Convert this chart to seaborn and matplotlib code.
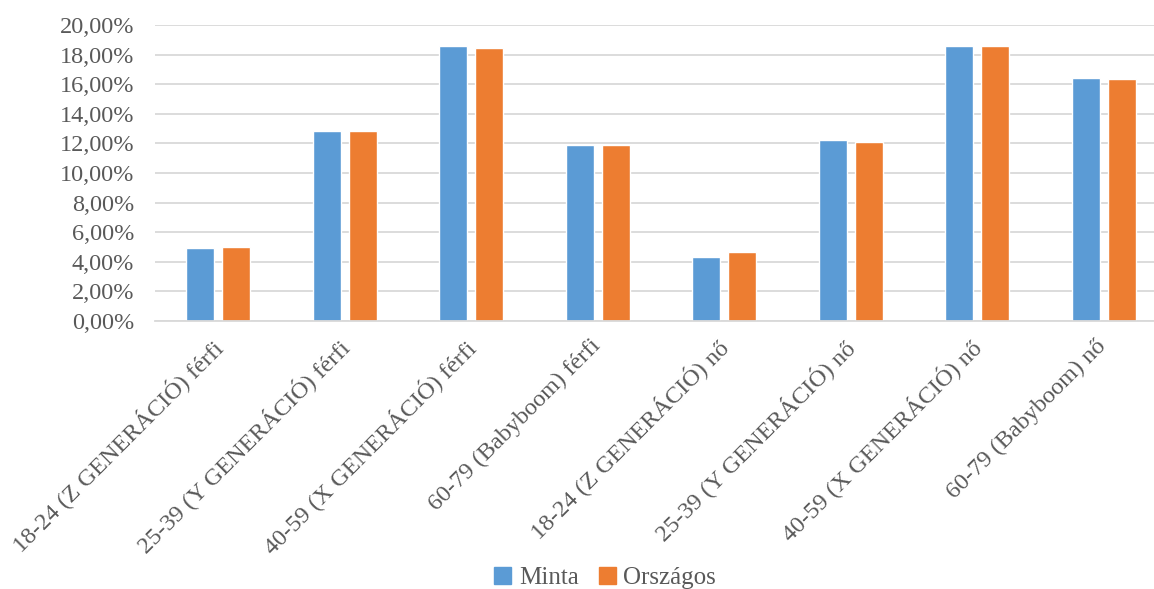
import pandas as pd
import matplotlib
matplotlib.use("Agg")
import matplotlib.pyplot as plt
import matplotlib.transforms as mtransforms
import seaborn as sns
from matplotlib.ticker import FuncFormatter, MultipleLocator

categories = [
    "18-24 (Z GENERÁCIÓ) férfi",
    "25-39 (Y GENERÁCIÓ) férfi",
    "40-59 (X GENERÁCIÓ) férfi",
    "60-79 (Babyboom) férfi",
    "18-24 (Z GENERÁCIÓ) nő",
    "25-39 (Y GENERÁCIÓ) nő",
    "40-59 (X GENERÁCIÓ) nő",
    "60-79 (Babyboom) nő",
]
minta = [0.0494, 0.1283, 0.1860, 0.1186, 0.0433, 0.1224, 0.1860, 0.1641]
orszagos = [0.0501, 0.1281, 0.1842, 0.1188, 0.0467, 0.1211, 0.1858, 0.1635]
series_names = ["Minta", "Országos"]
colors = ["#5B9BD5", "#ED7D31"]

df = pd.DataFrame({
    "cat": categories * 2,
    "val": minta + orszagos,
    "series": [series_names[0]] * len(categories) + [series_names[1]] * len(categories),
})

sns.set_theme(style="white")
plt.rcParams["font.family"] = ["Liberation Serif", "DejaVu Serif"]
grey = "#595959"

fig = plt.figure(figsize=(11.54, 5.89), dpi=100)
ax = fig.add_axes([155 / 1154, (589 - 321) / 589, 1.0 - 155 / 1154, (321 - 25) / 589])

sns.barplot(data=df, x="cat", y="val", hue="series", palette=colors,
            order=categories, hue_order=series_names,
            width=0.57, gap=0.22, saturation=1, ax=ax, legend=False)

ax.set_ylim(0, 0.20)
ax.set_xlim(-0.5, 7.5 - (1167 - 1154) / 126.6)
ax.yaxis.set_major_locator(MultipleLocator(0.02))
ax.yaxis.set_major_formatter(FuncFormatter(lambda v, p: f"{v * 100:.2f}".replace(".", ",") + "%"))
ax.grid(axis="y", color="#d9d9d9", linewidth=1.3)
ax.set_axisbelow(True)
for s in ["top", "right", "left"]:
    ax.spines[s].set_visible(False)
ax.spines["bottom"].set_color("#d9d9d9")
ax.spines["bottom"].set_linewidth(1.3)
ax.set_xlabel("")
ax.set_ylabel("")
ax.tick_params(axis="both", length=0, labelsize=17.5, colors=grey)
ax.tick_params(axis="y", pad=15)
ax.tick_params(axis="x", pad=6)

shift = mtransforms.ScaledTranslation(-8 / 100, -6 / 100, fig.dpi_scale_trans)
for lbl in ax.get_xticklabels():
    lbl.set_rotation(45)
    lbl.set_ha("right")
    lbl.set_rotation_mode("anchor")
    lbl.set_transform(lbl.get_transform() + shift)

handles = [plt.Rectangle((0, 0), 1, 1, color=c) for c in colors]
fig.legend(handles, series_names, loc="center", bbox_to_anchor=(605 / 1154, 1 - 578 / 589),
           ncol=2, frameon=False, fontsize=18, labelcolor=grey,
           handlelength=0.7, handleheight=0.7, handletextpad=0.3, columnspacing=0.8)

fig.savefig("out.png", dpi=100)
